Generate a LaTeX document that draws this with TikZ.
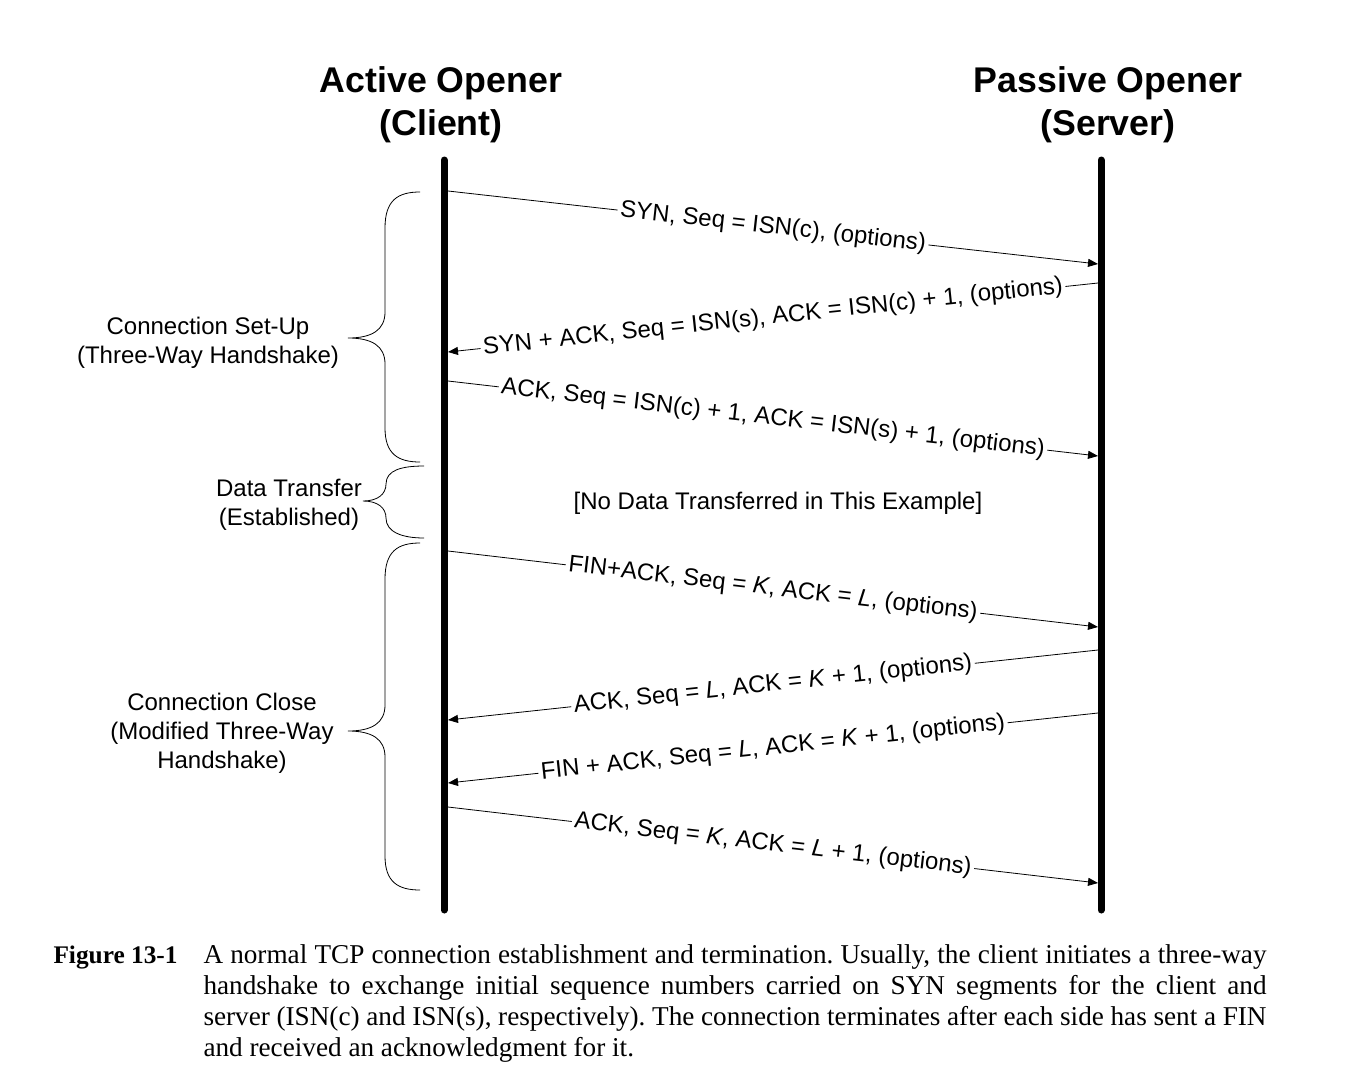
\documentclass[tikz,border=0pt]{standalone}
\usepackage{fontspec}
\setmainfont{Liberation Sans}
\newfontfamily\captionserif{Liberation Serif}
\usetikzlibrary{arrows.meta}

\tikzset{every picture/.style={line width=0.75pt}}
\tikzset{
  lifeline/.style={line width=5.25pt, line cap=round},
  msg/.style={-{Triangle[length=7.5pt,width=6pt]}, line width=0.6pt},
  msglabel/.style={midway, fill=white, inner xsep=2pt, inner ysep=0pt, font=\fontsize{18}{21.6}\selectfont},
  phasebrace/.style={line width=0.6pt},
  phaselabel/.style={align=center, inner sep=0.75pt, font=\fontsize{18}{21.6}\selectfont},
  headlabel/.style={align=center, inner sep=0.75pt, font=\bfseries\fontsize{26.8}{32.25}\selectfont},
}

\begin{document}
\begin{tikzpicture}[x=0.75pt,y=0.75pt,yscale=-1,xscale=1]
	%set diagram left start at 0, and has height of 1078
	\path[use as bounding box] (0,0) rectangle (1366,1078);
	
	% Text Node
	\draw (441,104.5) node [headlabel] (client) {Active Opener\\(Client)};
	% Text Node
	\draw (1108,104.5) node [headlabel] (server) {Passive Opener\\(Server)};
	
	%Straight Lines (lifelines)
	\coordinate (client top) at (444,160);
	\coordinate (client bottom) at (444,910);
	\coordinate (server top) at (1101,160);
	\coordinate (server bottom) at (1101,910);
	\draw [lifeline] (client top) -- (client bottom) ;
	\draw [lifeline] (server top) -- (server bottom) ;
	
	% message ends on the lifelines
	\coordinate (c1) at (448,191);  \coordinate (s1) at (1098,264);
	\coordinate (s2) at (1098,283); \coordinate (c2) at (448,352);
	\coordinate (c3) at (448,381);  \coordinate (s3) at (1098,456);
	\coordinate (c4) at (448,551);  \coordinate (s4) at (1098,627);
	\coordinate (s5) at (1098,650); \coordinate (c5) at (448,720);
	\coordinate (s6) at (1098,713); \coordinate (c6) at (448,783);
	\coordinate (c7) at (448,807);  \coordinate (s7) at (1098,883);
	
	%Straight Lines
	\draw [msg] (c1) -- node [msglabel, rotate=-6.4] (syn) {SYN, Seq = ISN(c), (options)} (s1) ;
	%Straight Lines
	\draw [msg] (s2) -- node [msglabel, rotate=6.06] (synack) {SYN + ACK, Seq = ISN(s), ACK = ISN(c) + 1, (options)} (c2) ;
	%Straight Lines
	\draw [msg] (c3) -- node [msglabel, rotate=-6.58] (ack) {ACK, Seq = ISN(c) + 1, ACK = ISN(s) + 1, (options)} (s3) ;
	
	% Text Node
	\draw (778,503) node [phaselabel] (nodata) {[No Data Transferred in This Example]};
	
	%Straight Lines
	\draw [msg] (c4) -- node [msglabel, rotate=-6.67] (finack) {FIN+ACK, Seq = \textit{K}, ACK = \textit{L}, (options)} (s4) ;
	%Straight Lines
	\draw [msg] (s5) -- node [msglabel, rotate=6.15] (ackclose) {ACK, Seq = \textit{L}, ACK = \textit{K} + 1, (options)} (c5) ;
	%Straight Lines
	\draw [msg] (s6) -- node [msglabel, rotate=6.15] (finserver) {FIN + ACK, Seq = \textit{L}, ACK = \textit{K} + 1, (options)} (c6) ;
	%Straight Lines
	\draw [msg] (c7) -- node [msglabel, rotate=-6.67] (lastack) {ACK, Seq = \textit{K}, ACK = \textit{L} + 1, (options)} (s7) ;
	
	%Curve Lines (set-up brace)
	\draw [phasebrace] (420,192) .. controls (398,192) and (385,200) .. (385,228) -- (385,312) .. controls (385,330) and (372,338) .. (348,338) .. controls (372,338) and (385,346) .. (385,364) -- (385,428) .. controls (385,454) and (398,462) .. (420,462) ;
	%Curve Lines (data transfer brace)
	\draw [phasebrace] (424,466) .. controls (402,466) and (386,470) .. (386,484) .. controls (386,494) and (378,501) .. (363,501) .. controls (378,501) and (386,508) .. (386,518) .. controls (386,532) and (402,538) .. (424,538) ;
	%Curve Lines (close brace)
	\draw [phasebrace] (420,543) .. controls (398,543) and (385,551) .. (385,579) -- (385,705) .. controls (385,723) and (372,731) .. (348,731) .. controls (372,731) and (385,739) .. (385,757) -- (385,856) .. controls (385,882) and (398,890) .. (420,890) ;
	
	% Text Node
	\draw (208,343) node [phaselabel] (setup) {Connection Set-Up\\(Three-Way Handshake)};
	% Text Node
	\draw (289,505) node [phaselabel] (established) {Data Transfer\\(Established)};
	% Text Node
	\draw (222,733) node [phaselabel] (close) {Connection Close\\(Modified Three-Way\\Handshake)};
	
	% Text Node
	\draw (53,963) node [anchor=base west][inner sep=0pt] (figno) {\captionserif\bfseries\fontsize{19}{23.25}\selectfont Figure 13-1};
	% Text Node
	\draw (203,963) node [anchor=base west][inner sep=0pt, text width=797.25pt, align=justify] (caption) {\captionserif\fontsize{20.4}{23.25}\selectfont\frenchspacing\hyphenpenalty=10000\exhyphenpenalty=10000
	A normal TCP connection establishment and termination. Usually, the client initiates a three-way\linebreak
	handshake to exchange initial sequence numbers carried on SYN segments for the client and\linebreak
	server (ISN(c) and ISN(s), respectively). The connection terminates after each side has sent a FIN\linebreak
	and received an acknowledgment for it.\par};
	
\end{tikzpicture}
\end{document}
